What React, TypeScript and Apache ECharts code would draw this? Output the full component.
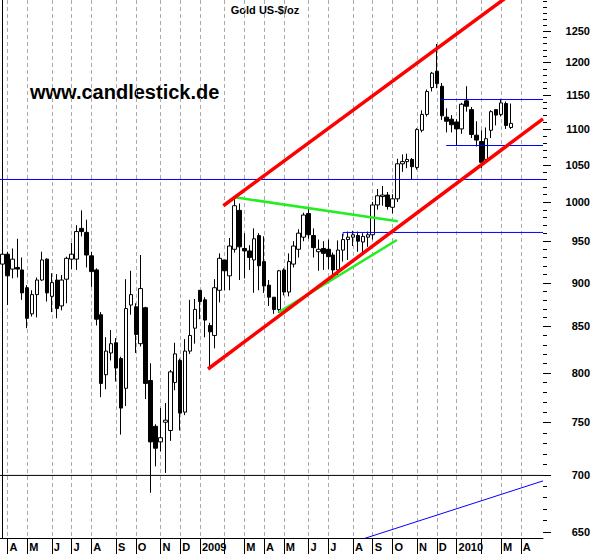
import React, { useEffect, useRef } from 'react';
import * as echarts from 'echarts';

// ---- weekly candles, Friday week-ending dates from 2008-03-28 ----
const firstFriday = [2008, 2, 28];
const weekSlots = 110; // visible weekly slots on the x axis

// [open, close, low, high], one row per week
const opens = [
  922, 934, 916, 918, 915, 894, 864, 886, 903, 928, 884, 903, 873, 904, 928, 928, 966, 961, 932, 915,
  863, 798, 821, 832, 815, 784, 874, 872, 831, 871, 792, 746, 731, 750, 742, 790, 813, 760, 823, 848,
  891, 880, 851, 840, 891, 927, 908, 940, 989, 941, 938, 927, 957, 925, 897, 883, 869, 915, 889, 922,
  940, 955, 985, 957, 937, 941, 940, 933, 915, 939, 952, 955, 957, 949, 955, 958, 996, 1007, 1009, 993,
  1004, 1051, 1054, 1057, 1046, 1098, 1121, 1161, 1186, 1163, 1117, 1114, 1110, 1100, 1141, 1128, 1091, 1082, 1057, 1098,
  1128, 1121, 1137, 1102,
];
const closes = [
  934, 908, 928, 916, 888, 859, 886, 903, 927, 888, 900, 870, 903, 929, 934, 962, 962, 933, 913, 858,
  789, 823, 831, 805, 764, 870, 886, 841, 893, 789, 731, 725, 735, 752, 801, 820, 759, 823, 840, 869,
  878, 857, 844, 894, 929, 914, 944, 995, 943, 938, 930, 953, 920, 896, 883, 869, 914, 889, 925, 944,
  960, 983, 958, 942, 940, 935, 931, 915, 939, 952, 955, 958, 950, 956, 958, 996, 1008, 1009, 994, 1004,
  1051, 1054, 1057, 1047, 1099, 1121, 1155, 1183, 1167, 1119, 1111, 1106, 1100, 1136, 1133, 1092, 1084, 1053, 1086, 1125,
  1120, 1138, 1105, 1108,
];
const lows = [
  920, 874, 905, 906, 880, 848, 861, 860, 902, 878, 866, 859, 868, 876, 916, 915, 956, 918, 895, 851,
  775, 783, 813, 791, 738, 766, 863, 821, 828, 773, 684, 708, 722, 702, 732, 782, 742, 757, 820, 831,
  858, 838, 803, 826, 877, 891, 891, 936, 903, 905, 915, 888, 891, 888, 873, 864, 865, 885, 884, 918,
  930, 950, 953, 930, 914, 915, 916, 908, 907, 925, 927, 944, 937, 934, 943, 952, 990, 995, 990, 985,
  1000, 1040, 1045, 1029, 1043, 1095, 1118, 1155, 1160, 1113, 1095, 1095, 1077, 1093, 1125, 1087, 1075, 1045, 1052, 1087,
  1105, 1118, 1100, 1100,
];
const highs = [
  955, 937, 941, 953, 930, 897, 891, 906, 937, 929, 911, 910, 909, 931, 948, 970, 989, 977, 937, 917,
  866, 838, 846, 837, 817, 904, 914, 876, 933, 872, 810, 748, 764, 769, 803, 832, 815, 836, 880, 881,
  891, 883, 854, 904, 935, 927, 954, 1006, 998, 960, 945, 966, 960, 956, 903, 883, 915, 917, 935, 950,
  965, 986, 993, 966, 952, 950, 952, 936, 951, 959, 962, 963, 962, 960, 962, 1000, 1017, 1021, 1013, 1010,
  1058, 1064, 1065, 1059, 1101, 1127, 1158, 1185, 1229, 1168, 1130, 1120, 1114, 1138, 1163, 1132, 1111, 1098, 1102, 1127,
  1128, 1144, 1140, 1137,
];

// y axis (log scale) ticks
const majorTickLabels = [650, 700, 750, 800, 850, 900, 950, 1000, 1050, 1100, 1150, 1200, 1250];
const minorTickStep = 10;
const yMin = 644.8;
const yMax = 1301.6;

// drawn lines: [week position, price]
const redUpper = [[44.74, 995], [104, 1318]];
const redLower = [[41.64, 804], [109.5, 1114.6]];
const greenUpper = [[47.1, 1006], [80.1, 975]];
const greenLower = [[55.9, 865.5], [79.9, 951.5]];
const blueRising = [[72.5, 643.3], [109.5, 694.7]];
const blueLevel1030 = [[-0.5, 1029.7], [109.5, 1029.7]];
const blackLevel700 = [[-0.5, 699.7], [109.5, 699.7]];
const blueLevel962 = [[69, 956], [69, 960.9], [109.5, 960.9]];
const blueRangeTop = [[88.8, 1143.0], [109.5, 1143.0]];
const blueRangeBottom = [[89.9, 1076.4], [109.5, 1076.4]];

const monthLetters = ['', '', 'M', 'A', 'M', 'J', 'J', 'A', 'S', 'O', 'N', 'D'];

const FONT = '"Liberation Sans", Arial, Helvetica, sans-serif';

function buildWeeks(): string[] {
  const out: string[] = [];
  const d = new Date(Date.UTC(firstFriday[0], firstFriday[1], firstFriday[2]));
  for (let i = 0; i < weekSlots; i++) {
    out.push(d.toISOString().slice(0, 10));
    d.setUTCDate(d.getUTCDate() + 7);
  }
  return out;
}

export default function App() {
  const ref = useRef<HTMLDivElement>(null);

  useEffect(() => {
    if (!ref.current) return;
    document.body.style.margin = '0';
    const chart = echarts.init(ref.current, undefined, { renderer: 'svg' });

    const weeks = buildWeeks();
    const monthStart = new Set<number>();
    for (let i = 1; i < weeks.length; i++) {
      if (weeks[i].slice(5, 7) !== weeks[i - 1].slice(5, 7)) monthStart.add(i);
    }
    const isMonthStart = (index: number) => monthStart.has(index);

    const candles = opens.map((o, i) => [o, closes[i], lows[i], highs[i]]);

    const tickData: number[][] = [];
    for (let v = 650; v <= 1300; v += minorTickStep) {
      tickData.push([109.5, v, majorTickLabels.indexOf(v) >= 0 ? 1 : 0]);
    }

    const lineSeries = (data: number[][], color: string, width: number) => ({
      type: 'line',
      xAxisIndex: 1,
      yAxisIndex: 0,
      data,
      symbol: 'none',
      clip: true,
      silent: true,
      z: 5,
      lineStyle: { color, width },
    });

    chart.setOption({
      animation: false,
      backgroundColor: '#ffffff',
      grid: { left: 0, right: 49, top: 0, bottom: 16, containLabel: false },
      xAxis: [
        {
          type: 'category',
          data: weeks,
          boundaryGap: true,
          axisLine: { show: true, lineStyle: { color: '#000', width: 1 } },
          axisTick: {
            show: true,
            interval: isMonthStart,
            alignWithLabel: true,
            length: 16,
            lineStyle: { color: '#000', width: 1 },
          },
          axisLabel: {
            show: true,
            interval: isMonthStart,
            align: 'left',
            padding: [0, 0, 0, 2],
            margin: 3,
            color: '#000',
            fontSize: 11,
            fontWeight: 'bold',
            fontFamily: FONT,
            formatter: (value: string) => {
              const m = Number(value.slice(5, 7)) - 1;
              if (m === 0) return value.slice(0, 4);
              return monthLetters[m];
            },
          },
          splitLine: {
            show: true,
            interval: isMonthStart,
            alignWithLabel: true,
            lineStyle: { color: '#aaaaaa', width: 1, type: [4, 3] },
          },
        },
        {
          type: 'value',
          show: false,
          min: -0.5,
          max: 109.5,
        },
      ],
      yAxis: [
        {
          type: 'log',
          logBase: 10,
          position: 'right',
          min: yMin,
          max: yMax,
          axisLine: { show: true, lineStyle: { color: '#000', width: 1 } },
          axisTick: { show: false },
          axisLabel: { show: false },
          splitLine: { show: false },
        },
      ],
      graphic: [
        {
          type: 'text',
          x: 265,
          y: 10,
          style: {
            text: 'Gold US-$/oz',
            font: `bold 11px ${FONT}`,
            fill: '#000',
            align: 'center',
            verticalAlign: 'middle',
          },
        },
        {
          type: 'text',
          x: 30,
          y: 92,
          style: {
            text: 'www.candlestick.de',
            font: `bold 20px ${FONT}`,
            fill: '#000',
            align: 'left',
            verticalAlign: 'middle',
          },
        },
      ],
      series: [
        {
          type: 'candlestick',
          xAxisIndex: 0,
          yAxisIndex: 0,
          data: candles,
          barWidth: 4,
          z: 3,
          itemStyle: {
            color: '#ffffff',
            color0: '#000000',
            borderColor: '#000000',
            borderColor0: '#000000',
            borderColorDoji: '#000000',
            borderWidth: 1,
          },
        },
        lineSeries(blackLevel700, '#000000', 1),
        lineSeries(blueLevel1030, '#0000ff', 1),
        lineSeries(blueLevel962, '#0000ff', 1),
        lineSeries(blueRangeTop, '#0000ff', 1),
        lineSeries(blueRangeBottom, '#0000ff', 1),
        lineSeries(blueRising, '#0000ff', 1),
        lineSeries(greenUpper, '#22ee22', 2.5),
        lineSeries(greenLower, '#22ee22', 2.5),
        lineSeries(redUpper, '#ff0000', 3.5),
        lineSeries(redLower, '#ff0000', 3.5),
        {
          type: 'custom',
          xAxisIndex: 1,
          yAxisIndex: 0,
          data: tickData,
          encode: { x: 0, y: 1 },
          clip: false,
          silent: true,
          z: 6,
          renderItem: (params: any, api: any) => {
            const v = api.value(1);
            const pt = api.coord([api.value(0), v]);
            const major = api.value(2) === 1;
            const y = Math.round(pt[1]) + 0.5;
            const children: any[] = [
              {
                type: 'line',
                shape: { x1: pt[0], y1: y, x2: pt[0] + (major ? 8 : 4), y2: y },
                style: { stroke: '#000', lineWidth: 1 },
              },
            ];
            if (major) {
              children.push({
                type: 'text',
                style: {
                  text: String(v),
                  x: pt[0] + 47,
                  y: pt[1],
                  align: 'right',
                  verticalAlign: 'middle',
                  font: `bold 11px ${FONT}`,
                  fill: '#000',
                },
              });
            }
            return { type: 'group', children };
          },
        },
      ],
    });

    return () => chart.dispose();
  }, []);

  return (
    <div
      ref={ref}
      style={{ position: 'fixed', left: 0, top: 0, width: 592, height: 554, background: '#fff' }}
    />
  );
}
